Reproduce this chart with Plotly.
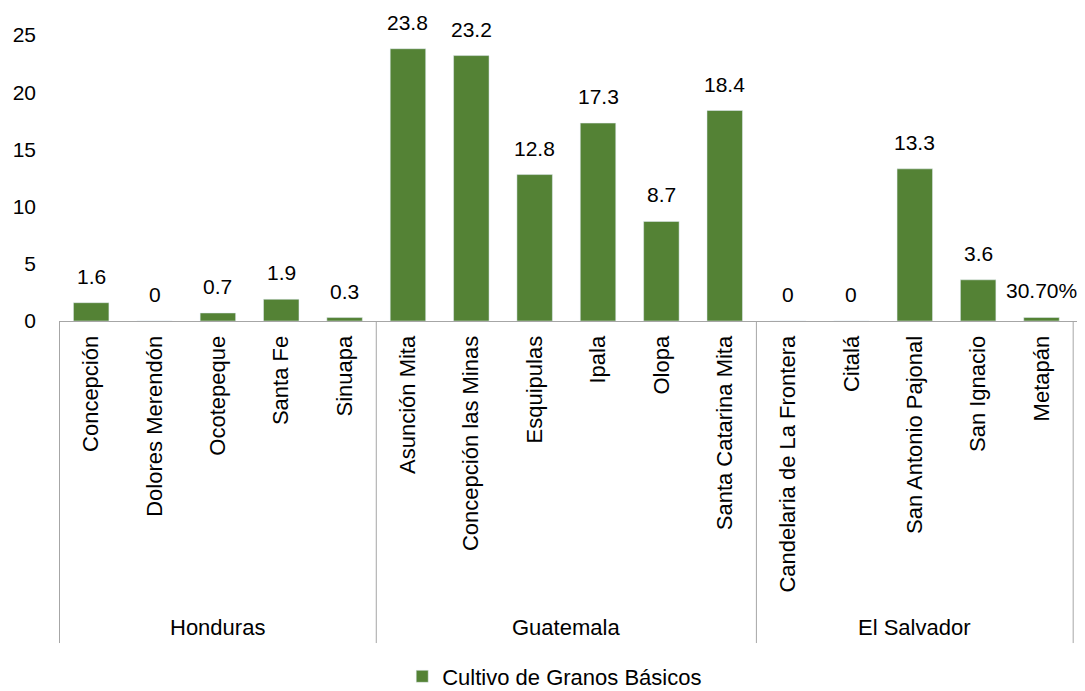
import plotly.graph_objects as go

countries = ["Honduras"] * 5 + ["Guatemala"] * 6 + ["El Salvador"] * 5
municipios = ["Concepción", "Dolores Merendón", "Ocotepeque", "Santa Fe", "Sinuapa",
              "Asunción Mita", "Concepción las Minas", "Esquipulas", "Ipala", "Olopa", "Santa Catarina Mita",
              "Candelaria de La Frontera", "Citalá", "San Antonio Pajonal", "San Ignacio", "Metapán"]
values = [1.6, 0, 0.7, 1.9, 0.3, 23.8, 23.2, 12.8, 17.3, 8.7, 18.4, 0, 0, 13.3, 3.6, 0.307]
labels = ["1.6", "0", "0.7", "1.9", "0.3", "23.8", "23.2", "12.8", "17.3", "8.7", "18.4",
          "0", "0", "13.3", "3.6", "30.70%"]
y_ticks = [0, 5, 10, 15, 20, 25]

FONT = "Liberation Sans Narrow, Arial Narrow, Liberation Sans, Arial"
GREEN = "#548235"
LINE = "#a6a6a6"
FS = 21

fig = go.Figure(go.Bar(
    x=municipios, y=values,
    marker=dict(color=GREEN),
    name="Cultivo de Granos Básicos", showlegend=True,
))

# value labels above bars
for m, v, t in zip(municipios, values, labels):
    fig.add_annotation(x=m, y=v, xref="x", yref="y", text=t, showarrow=False,
                       yanchor="bottom", yshift=13, font=dict(family=FONT, size=FS, color="#000"))

# group dividers and group labels
groups = []
for i, c in enumerate(countries):
    if not groups or groups[-1][0] != c:
        groups.append([c, i, i])
    else:
        groups[-1][2] = i
bounds = [g[1] - 0.5 for g in groups] + [groups[-1][2] + 0.5]
for b in bounds:
    fig.add_shape(type="line", xref="x", yref="paper", x0=b, x1=b, y0=0, y1=-1.126,
                  line=dict(color=LINE, width=1))
for name, i0, i1 in groups:
    fig.add_annotation(x=(i0 + i1) / 2, y=-1.073, xref="x", yref="paper", text=name,
                       showarrow=False, yanchor="middle", font=dict(family=FONT, size=22, color="#000"))

fig.update_layout(
    width=1077, height=683,
    margin=dict(l=51, r=6, t=27, b=370, autoexpand=False),
    plot_bgcolor="white", paper_bgcolor="white",
    bargap=0.44,
    font=dict(family=FONT, size=FS, color="#000"),
    legend=dict(orientation="h", x=0.486, xanchor="center", y=-1.243, yanchor="middle",
                itemwidth=30, font=dict(family=FONT, size=22)),
    xaxis=dict(type="category", tickangle=-90, showline=True, linecolor=LINE, automargin=False,
               ticks="", ticklabelstandoff=5, tickfont=dict(family=FONT, size=22), showgrid=False),
    yaxis=dict(range=[0, 25], tickvals=y_ticks, showgrid=False, showline=False, zeroline=False,
               automargin=False, ticks="", ticklabelstandoff=22, tickfont=dict(family=FONT, size=FS)),
)

fig.write_html("out.html")
